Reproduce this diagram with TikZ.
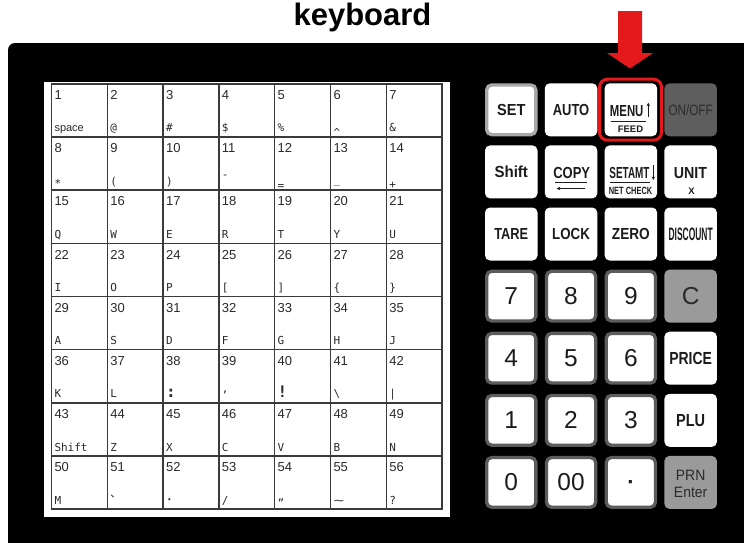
\documentclass[tikz,border=0pt]{standalone}
\usepackage{fontspec}
\usepackage{graphicx}
\setmainfont{Liberation Sans}
\newfontfamily\monof{DejaVu Sans Mono}
\newfontfamily\cjkf{Noto Sans CJK SC}
\usetikzlibrary{arrows.meta}
\definecolor{arrowred}{HTML}{E3191B}
\definecolor{gridline}{HTML}{3A3A3A}
\definecolor{gtext}{HTML}{2A2A2A}
\definecolor{keytext}{HTML}{1C1C1C}
\definecolor{numborder}{HTML}{5C5C5C}
\definecolor{setborder}{HTML}{A8A8A8}
\definecolor{darkkeyfill}{HTML}{5E5E5E}
\definecolor{darkkeytext}{HTML}{2B2B2B}
\definecolor{graykeyfill}{HTML}{9A9A9A}
\definecolor{graykeytext}{HTML}{2A2A2A}
\tikzset{
  gnum/.style={anchor=base west, inner sep=0pt, outer sep=0pt, text=gtext, font=\fontsize{13}{13}\selectfont},
  glab/.style={anchor=base west, inner sep=0pt, outer sep=0pt, text=gtext, font=\monof\fontsize{11}{11}\selectfont},
  key/.style={rectangle, rounded corners=5pt, minimum width=52.5pt, minimum height=53pt, inner sep=0pt, outer sep=0pt, fill=white, text=keytext},
  framedkey/.style={key, line width=3.3pt, minimum width=49.2pt, minimum height=49.7pt},
  numkey/.style={framedkey, draw=numborder, font=\fontsize{24.5}{24.5}\selectfont},
  setkey/.style={framedkey, draw=setborder},
  darkkey/.style={key, fill=darkkeyfill, text=darkkeytext},
  graykey/.style={key, fill=graykeyfill, text=graykeytext},
  kbold/.style={font=\bfseries\fontsize{16}{16}\selectfont},
  sublab/.style={anchor=base, inner sep=0pt, outer sep=0pt, text=keytext},
  ruleline/.style={draw=keytext, line width=1pt},
  smallarrow/.style={draw=keytext, line width=1.1pt, -{Stealth[length=3.5pt,width=3.5pt]}},
}
\newcommand\gcell[4][0]{%
  \pgfmathsetmacro\gx{51.5+55.8*#3+3}%
  \pgfmathsetmacro\gt{83.6+53.2*#2}%
  \pgfmathtruncatemacro\gn{#2*7+#3+1}%
  \node[gnum] (num\gn) at (\gx,\gt+15.8) {\gn};
  \node[glab] (lab\gn) at (\gx,\gt+48.2+#1) {#4};
}
\begin{document}
\begin{tikzpicture}[x=1pt,y=-1pt]
\useasboundingbox (0,0) rectangle (744,542);
\clip (0,0) rectangle (744,542);
\fill[white] (0,0) rectangle (744,542);
% title
\node[anchor=base, inner sep=0pt, font=\bfseries\fontsize{31}{31}\selectfont] (title) at (362.5,25) {keyboard};
% black housing
\fill[black, rounded corners=7pt] (8,43) rectangle (770,570);
% white label panel
\fill[white] (44,82) rectangle (450,517);
% grid
\foreach \c in {1,...,6} \draw[gridline, line width=1.4pt] ({51.5+55.8*\c},83.6) -- ({51.5+55.8*\c},509.2);
\foreach \r in {1,...,7} \draw[gridline, line width=1.4pt] (51.5,{83.6+53.2*\r}) -- (442.1,{83.6+53.2*\r});
\draw[gridline, line width=1.8pt] (51.5,83.6) rectangle (442.1,509.2);
% cells
\gcell{0}{0}{\normalfont space}
\gcell{0}{1}{@}
\gcell{0}{2}{\#}
\gcell{0}{3}{\$}
\gcell{0}{4}{\%}
\gcell[5]{0}{5}{\textasciicircum}
\gcell{0}{6}{\&}
\gcell[2.5]{1}{0}{*}
\gcell{1}{1}{(}
\gcell{1}{2}{)}
\gcell[-6.5]{1}{3}{-}
\gcell[4.5]{1}{4}{=}
\gcell[-2]{1}{5}{\_}
\gcell[3.5]{1}{6}{+}
\gcell{2}{0}{Q}
\gcell{2}{1}{W}
\gcell{2}{2}{E}
\gcell{2}{3}{R}
\gcell{2}{4}{T}
\gcell{2}{5}{Y}
\gcell{2}{6}{U}
\gcell{3}{0}{I}
\gcell{3}{1}{O}
\gcell{3}{2}{P}
\gcell{3}{3}{[}
\gcell{3}{4}{]}
\gcell{3}{5}{\{}
\gcell{3}{6}{\}}
\gcell{4}{0}{A}
\gcell{4}{1}{S}
\gcell{4}{2}{D}
\gcell{4}{3}{F}
\gcell{4}{4}{G}
\gcell{4}{5}{H}
\gcell{4}{6}{J}
\gcell{5}{0}{K}
\gcell{5}{1}{L}
\gcell{5}{2}{{\bfseries\fontsize{16}{16}\selectfont :}}
\gcell[-5]{5}{3}{,}
\gcell{5}{4}{{\bfseries\fontsize{16}{16}\selectfont !}}
\gcell{5}{5}{\textbackslash}
\gcell{5}{6}{|}
\gcell{6}{0}{Shift}
\gcell{6}{1}{Z}
\gcell{6}{2}{X}
\gcell{6}{3}{C}
\gcell{6}{4}{V}
\gcell{6}{5}{B}
\gcell{6}{6}{N}
\gcell{7}{0}{M}
\gcell[-7]{7}{1}{{\cjkf 、}}
\gcell[-1]{7}{2}{{\bfseries ·}}
\gcell{7}{3}{/}
\gcell[-4]{7}{4}{„}
\gcell{7}{5}{\scalebox{1.6}[1]{\textasciitilde}}
\gcell{7}{6}{?}
% ---- keys, row 0
\node[setkey, kbold] (kset) at (511.25,109.8) {\scalebox{0.91}[1]{SET}};
\node[key, kbold] (kauto) at (571.05,109.8) {\scalebox{0.81}[1]{AUTO}};
\node[key] (kmenu) at (630.85,109.8) {};
\node[sublab, kbold] (menutxt) at (626.7,116.7) {\scalebox{0.71}[1]{MENU}};
\coordinate (menuarrowA) at (648.3,116.9);
\coordinate (menuarrowB) at (648.3,102.7);
\draw[smallarrow] (menuarrowA) -- (menuarrowB);
\coordinate (menuruleA) at (610.7,121);
\coordinate (menuruleB) at (646,121);
\draw[ruleline] (menuruleA) -- (menuruleB);
\node[sublab, font=\bfseries\fontsize{9.5}{9.5}\selectfont] (feedtxt) at (630.5,132.7) {FEED};
\node[draw=arrowred, line width=3pt, rounded corners=8pt, minimum width=62pt, minimum height=61pt, inner sep=0pt] (menuring) at (630.5,109.7) {};
\node[darkkey, font=\fontsize{15}{15}\selectfont] (konoff) at (690.65,109.8) {\color{darkkeytext}\scalebox{0.78}[1]{ON/OFF}};
% row 1
\node[key, kbold] (kshift) at (511.25,171.9) {\scalebox{0.94}[1]{Shift}};
\node[key] (kcopy) at (571.05,171.9) {};
\node[sublab, kbold] (copytxt) at (571.7,178.3) {\scalebox{0.81}[1]{COPY}};
\coordinate (copyruleA) at (555,182.7);
\coordinate (copyruleB) at (586.7,182.7);
\draw[ruleline] (copyruleA) -- (copyruleB);
\coordinate (copyarrowA) at (585,188.5);
\coordinate (copyarrowB) at (556.7,188.5);
\draw[smallarrow] (copyarrowA) -- (copyarrowB);
\node[key] (ksetamt) at (630.85,171.9) {};
\node[sublab, kbold] (setamttxt) at (629.5,178.3) {\scalebox{0.62}[1]{SETAMT}};
\coordinate (setamtarrowA) at (653.3,165);
\coordinate (setamtarrowB) at (653.3,180);
\draw[smallarrow] (setamtarrowA) -- (setamtarrowB);
\coordinate (setamtruleA) at (610,182.7);
\coordinate (setamtruleB) at (650,182.7);
\draw[ruleline] (setamtruleA) -- (setamtruleB);
\node[sublab, font=\bfseries\fontsize{10.5}{10.5}\selectfont] (netchecktxt) at (630.6,194.3) {\scalebox{0.71}[1]{NET CHECK}};
\node[key] (kunit) at (690.65,171.9) {};
\node[sublab, kbold] (unittxt) at (690.5,178.6) {\scalebox{0.89}[1]{UNIT}};
\node[sublab, font=\bfseries\fontsize{9.5}{9.5}\selectfont] (unitx) at (691.5,194.3) {X};
% row 2
\node[key, kbold] (ktare) at (511.25,234.0) {\scalebox{0.80}[1]{TARE}};
\node[key, kbold] (klock) at (571.05,234.0) {\scalebox{0.83}[1]{LOCK}};
\node[key, kbold] (kzero) at (630.85,234.0) {\scalebox{0.85}[1]{ZERO}};
\node[key, font=\bfseries\fontsize{18}{18}\selectfont] (kdiscount) at (690.65,234.0) {\scalebox{0.47}[1]{DISCOUNT}};
% row 3
\node[numkey] (k7) at (511.25,296.1) {7};
\node[numkey] (k8) at (571.05,296.1) {8};
\node[numkey] (k9) at (630.85,296.1) {9};
\node[graykey, font=\fontsize{24.5}{24.5}\selectfont] (kc) at (690.65,296.1) {C};
% row 4
\node[numkey] (k4) at (511.25,358.2) {4};
\node[numkey] (k5) at (571.05,358.2) {5};
\node[numkey] (k6) at (630.85,358.2) {6};
\node[key, font=\bfseries\fontsize{17.5}{17.5}\selectfont] (kprice) at (690.65,358.2) {\scalebox{0.80}[1]{PRICE}};
% row 5
\node[numkey] (k1) at (511.25,420.3) {1};
\node[numkey] (k2) at (571.05,420.3) {2};
\node[numkey] (k3) at (630.85,420.3) {3};
\node[key, font=\bfseries\fontsize{17.5}{17.5}\selectfont] (kplu) at (690.65,420.3) {\scalebox{0.83}[1]{PLU}};
% row 6
\node[numkey] (k0) at (511.25,482.4) {0};
\node[numkey] (k00) at (571.05,482.4) {00};
\node[numkey] (kdot) at (630.85,482.4) {};
\node[sublab, font=\bfseries\fontsize{22}{22}\selectfont] (dottxt) at (631,489.5) {·};
\node[graykey] (kprn) at (690.65,482.4) {};
\node[sublab, text=graykeytext, font=\fontsize{15}{15}\selectfont] (prntxt) at (690.65,480.4) {\scalebox{0.93}[1]{PRN}};
\node[sublab, text=graykeytext, font=\fontsize{15}{15}\selectfont] (entertxt) at (690.65,497.3) {\scalebox{0.93}[1]{Enter}};
% red pointer
\coordinate (ptrtop) at (630,11);
\coordinate (ptrtip) at (630,68.5);
\fill[arrowred] ([xshift=-12pt]ptrtop) -- ([xshift=12pt]ptrtop) -- ([xshift=12pt,yshift=15.5pt]ptrtip) -- ([xshift=23pt,yshift=15.5pt]ptrtip) -- (ptrtip) -- ([xshift=-23pt,yshift=15.5pt]ptrtip) -- ([xshift=-12pt,yshift=15.5pt]ptrtip) -- cycle;
\end{tikzpicture}
\end{document}
